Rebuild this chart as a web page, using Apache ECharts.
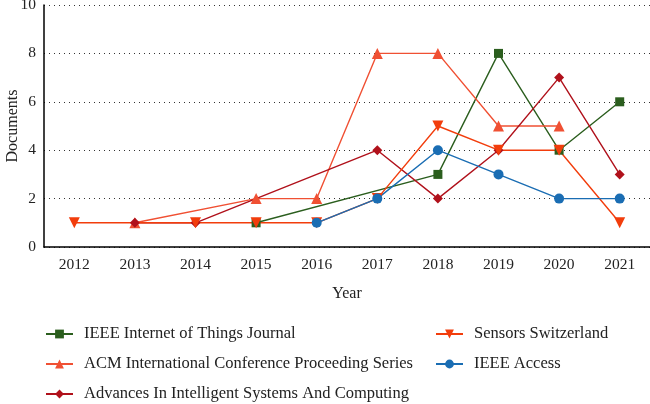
<!DOCTYPE html>
<html><head><meta charset="utf-8">
<script src="https://cdn.jsdelivr.net/npm/echarts@6/dist/echarts.min.js"></script>
<style>html,body{margin:0;padding:0;background:#fff}#c{width:650px;height:404px}</style>
</head><body><div id="c"></div>
<script>
const years = ['2012','2013','2014','2015','2016','2017','2018','2019','2020','2021'];
const iot      = [null, null, null, 1, null, null, 3, 8, 4, 6];
const acm      = [null, 1, null, 2, 2, 8, 8, 5, 5, null];
const advances = [null, 1, 1, null, null, 4, 2, 4, 7, 3];
const sensors  = [1, null, 1, 1, 1, 2, 5, 4, 4, 1];
const access   = [null, null, null, null, 1, 2, 4, 3, 2, 2];
const yTicks = [0, 2, 4, 6, 8, 10];

const font = 'Liberation Serif';
const chart = echarts.init(document.getElementById('c'));
function s(name, data, color, symbol, size){
  return {name, type:'line', data, connectNulls:true, symbol, symbolSize:size,
    itemStyle:{color}, lineStyle:{color, width:1.4}};
}
const legendText = {fontFamily:font, fontSize:16.5, color:'#222', lineHeight:18, padding:[0,0,0,6]};
chart.setOption({
  animation:false,
  grid:{left:44, right:0, top:5, bottom:157, containLabel:false, outerBoundsMode:'none'},
  xAxis:{type:'category', data:years, boundaryGap:true,
    name:'Year', nameLocation:'middle', nameGap:39, nameMoveOverlap:false,
    nameTextStyle:{fontFamily:font, fontSize:16, color:'#222'},
    axisLine:{lineStyle:{color:'#000', width:1.5}}, axisTick:{show:false},
    axisLabel:{fontFamily:font, fontSize:15.5, color:'#222', margin:10}},
  yAxis:{type:'value', min:0, max:10, interval:2,
    name:'Documents', nameLocation:'middle', nameGap:23, nameMoveOverlap:false,
    nameTextStyle:{fontFamily:font, fontSize:16, color:'#222'},
    axisLine:{show:true, lineStyle:{color:'#000', width:1.5}}, axisTick:{show:false},
    axisLabel:{fontFamily:font, fontSize:15.5, color:'#222', margin:8,
      formatter: v => yTicks.includes(v) ? String(v) : ''},
    splitLine:{show:true, lineStyle:{color:'#333', type:[1,4], width:1}}},
  legend:[
    {orient:'vertical', left:45, top:325, itemGap:12, itemWidth:27, itemHeight:11, padding:0,
     textStyle:legendText,
     data:['IEEE Internet of Things Journal','ACM International Conference Proceeding Series','Advances In Intelligent Systems And Computing']},
    {orient:'vertical', left:435, top:325, itemGap:12, itemWidth:27, itemHeight:11, padding:0,
     textStyle:legendText,
     data:['Sensors Switzerland','IEEE Access']}
  ],
  series:[
    s('IEEE Internet of Things Journal', iot, '#2b5e1e', 'rect', 9),
    s('ACM International Conference Proceeding Series', acm, '#f05033', 'triangle', 11),
    s('Advances In Intelligent Systems And Computing', advances, '#b0111b', 'diamond', 10),
    s('Sensors Switzerland', sensors, '#f23d0c', 'path://M0,0 L10,0 L5,9 Z', 11),
    s('IEEE Access', access, '#1a6db3', 'circle', 10)
  ]
});
</script></body></html>
